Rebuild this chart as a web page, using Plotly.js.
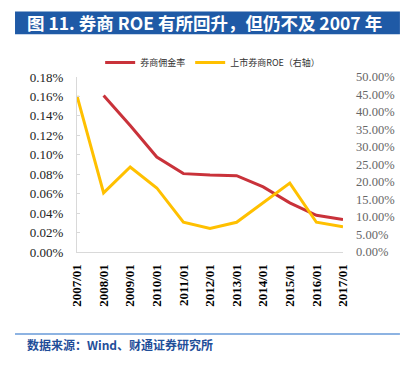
<!DOCTYPE html>
<html>
<head>
<meta charset="utf-8">
<script src="https://cdn.plot.ly/plotly-3.0.1.min.js"></script>
<style>html,body{margin:0;padding:0;background:#fff;}#chart{width:414px;height:365px;}</style>
</head>
<body>
<div id="chart"></div>
<script>
const categories = ["2007/01","2008/01","2009/01","2010/01","2011/01","2012/01","2013/01","2014/01","2015/01","2016/01","2017/01"];
const commissionRate = [null, 0.161, 0.130, 0.0977, 0.0806, 0.0792, 0.0785, 0.0669, 0.0505, 0.0378, 0.0334];
const brokerROE = [44.6, 16.9, 24.3, 18.3, 8.5, 6.7, 8.5, 14.1, 19.7, 8.5, 7.2];
const leftTicks = [0,0.02,0.04,0.06,0.08,0.10,0.12,0.14,0.16,0.18];
const rightTicks = [0,5,10,15,20,25,30,35,40,45,50];

const serif = "Liberation Serif, Times New Roman, serif";
const cjk = "Noto Sans CJK SC, sans-serif";

const traces = [
  {x: categories, y: commissionRate, name: "券商佣金率", type: "scatter", mode: "lines",
   line: {color: "#C9323A", width: 3}, yaxis: "y", connectgaps: false},
  {x: categories, y: brokerROE, name: "上市券商ROE（右轴）", type: "scatter", mode: "lines",
   line: {color: "#FFC000", width: 3}, yaxis: "y2"}
];

const layout = {
  width: 414, height: 365,
  margin: {l: 77, r: 71, t: 77, b: 112.5, pad: 0},
  paper_bgcolor: "#fff", plot_bgcolor: "#fff",
  showlegend: true,
  legend: {orientation: "h", x: 0.51, xanchor: "center", y: 1.083, yanchor: "middle",
    font: {family: cjk, size: 9, color: "#333"}, itemwidth: 30, tracegroupgap: 0},
  xaxis: {type: "category", tickangle: -90, showgrid: false, zeroline: false,
    showline: true, linecolor: "#D9D9D9", linewidth: 1, ticks: "", ticklabelstandoff: 6,
    tickfont: {family: serif, size: 13, color: "#000", weight: "bold"}},
  yaxis: {range: [0, 0.18], tickvals: leftTicks,
    ticktext: leftTicks.map(v => v.toFixed(2) + "%"), showgrid: false, zeroline: false,
    showline: true, linecolor: "#D9D9D9", linewidth: 1, ticks: "inside", ticklen: 3, tickcolor: "#D9D9D9",
    ticklabelstandoff: 10,
    tickfont: {family: serif, size: 13, color: "#222"}},
  yaxis2: {range: [0, 50], overlaying: "y", side: "right", tickvals: rightTicks,
    ticktext: rightTicks.map(v => v.toFixed(2) + "%"), showgrid: false, zeroline: false,
    showline: false, ticks: "", ticklabelstandoff: 12,
    tickfont: {family: serif, size: 12.5, color: "#666"}},
  shapes: [
    {type: "rect", xref: "paper", yref: "paper", x0: -0.233, x1: 1.214, y0: 1.245, y1: 1.375,
     fillcolor: "#1F5AA6", line: {width: 0}},
    {type: "line", xref: "paper", yref: "paper", x0: -0.233, x1: 1.214, y0: -0.469, y1: -0.469,
     line: {color: "#8DB3E2", width: 2}}
  ],
  annotations: [
    {xref: "paper", yref: "paper", x: -0.195, y: 1.31, xanchor: "left", yanchor: "middle",
     text: "<b>图 11. 券商 ROE 有所回升，但仍不及 2007 年</b>", showarrow: false,
     font: {family: cjk, size: 17.5, color: "#fff"}},
    {xref: "paper", yref: "paper", x: -0.195, y: -0.53, xanchor: "left", yanchor: "middle",
     text: "<b>数据来源：Wind、财通证券研究所</b>", showarrow: false,
     font: {family: cjk, size: 12, color: "#1F4E99"}}
  ]
};

Plotly.newPlot("chart", traces, layout, {displayModeBar: false, staticPlot: true});
</script>
</body>
</html>
